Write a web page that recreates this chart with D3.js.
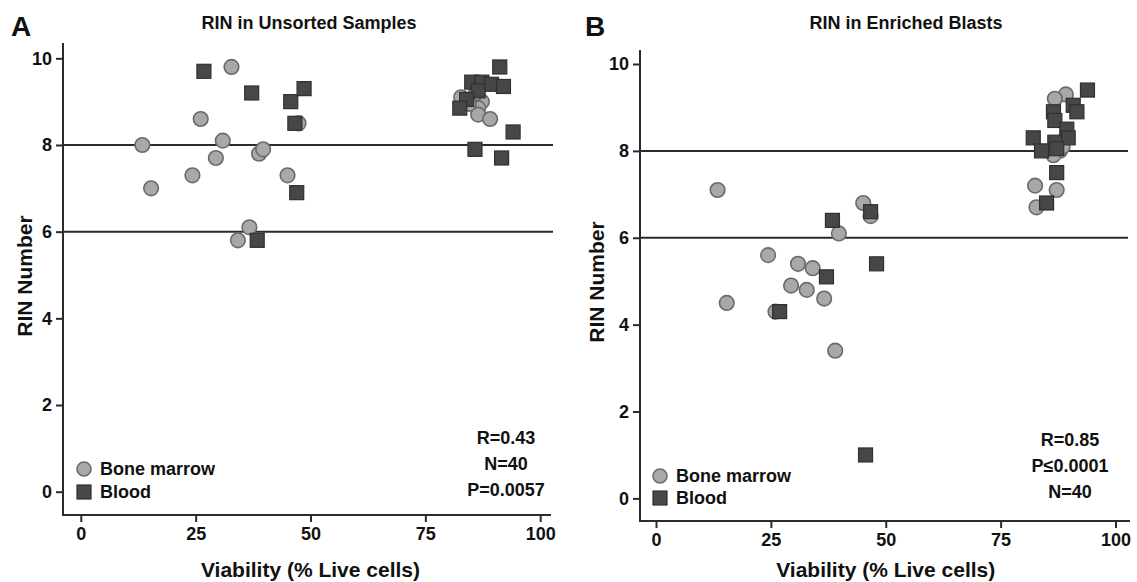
<!DOCTYPE html>
<html>
<head>
<meta charset="utf-8">
<script src="https://cdn.jsdelivr.net/npm/d3@7"></script>
<style>
  html, body { margin: 0; padding: 0; background: #fff; }
  svg { display: block; font-family: "Liberation Sans", Arial, Helvetica, sans-serif; }
</style>
</head>
<body>
<svg id="chart" width="1137" height="582"></svg>
<script>
// ---- Data (viability %, RIN) ----
const xTicks = [0, 25, 50, 75, 100];
const yTicks = [0, 2, 4, 6, 8, 10];
const refLines = [6, 8];
const legendLabels = ["Bone marrow", "Blood"];

const unsortedMarrow = [
  [13.4, 8.0], [15.3, 7.0], [24.3, 7.3], [26.1, 8.6], [29.4, 7.7], [30.9, 8.1],
  [32.8, 9.8], [34.2, 5.8], [36.7, 6.1], [38.8, 7.8], [39.7, 7.9], [45.0, 7.3],
  [47.4, 8.5],
  [82.8, 9.1], [87.3, 9.0], [86.5, 8.85], [86.5, 8.7], [89.1, 8.6], [86.0, 9.2], [84.5, 8.95]
];
const unsortedBlood = [
  [26.8, 9.7], [37.2, 9.2], [45.7, 9.0], [48.6, 9.3], [46.6, 8.5], [47.0, 6.9], [38.4, 5.8],
  [85.1, 9.45], [87.3, 9.45], [89.4, 9.4], [92.0, 9.35], [86.5, 9.25], [84.0, 9.05],
  [82.5, 8.85], [91.2, 9.8], [94.1, 8.3], [85.8, 7.9], [91.6, 7.7]
];
const enrichedMarrow = [
  [13.4, 7.1], [24.4, 5.6], [30.9, 5.4], [34.1, 5.3], [29.4, 4.9], [32.8, 4.8],
  [36.6, 4.6], [15.4, 4.5], [26.0, 4.3], [39.0, 3.4], [39.8, 6.1], [45.1, 6.8], [46.7, 6.5],
  [89.2, 9.3], [86.8, 9.2], [87.9, 8.0], [86.5, 7.9], [82.5, 7.2], [87.2, 7.1], [82.8, 6.7], [88.5, 8.1]
];
const enrichedBlood = [
  [26.9, 4.3], [38.4, 6.4], [37.1, 5.1], [46.7, 6.6], [48.0, 5.4], [45.6, 1.0],
  [93.9, 9.4], [90.8, 9.05], [91.6, 8.9], [86.5, 8.9], [86.8, 8.7], [89.4, 8.5],
  [89.7, 8.3], [82.1, 8.3], [86.8, 8.2], [83.9, 8.0], [87.2, 8.05], [87.2, 7.5], [85.0, 6.8]
];
const statsA = ["R=0.43", "N=40", "P=0.0057"];
const statsB = ["R=0.85", "P\u22640.0001", "N=40"];

// ---- Drawing ----
const svg = d3.select("#chart");
const ink = "#111";
const axisColor = "#2b2b2b";

function panel(cfg) {
  const x = d3.scaleLinear().domain([0, 100]).range([cfg.x0, cfg.x100]);
  const y = d3.scaleLinear().domain([0, 10]).range([cfg.y0, cfg.y10]);
  const g = svg.append("g");

  // reference lines
  g.selectAll("line.ref").data(refLines).enter().append("line")
    .attr("x1", cfg.axisX).attr("x2", cfg.refEnd)
    .attr("y1", d => y(d)).attr("y2", d => y(d))
    .attr("stroke", axisColor).attr("stroke-width", 2);

  // x axis
  const xa = g.append("g").attr("transform", `translate(0,${cfg.axisY})`)
    .call(d3.axisBottom(x).tickValues(xTicks).tickSize(7).tickSizeOuter(0).tickPadding(5));
  xa.select(".domain").remove();
  xa.selectAll(".tick line").attr("stroke", axisColor).attr("stroke-width", 2);
  xa.selectAll(".tick text").attr("fill", ink).style("font-size", "18px").style("font-weight", "bold");
  g.append("line").attr("x1", cfg.axisX - 1).attr("x2", cfg.axisEnd)
    .attr("y1", cfg.axisY).attr("y2", cfg.axisY)
    .attr("stroke", axisColor).attr("stroke-width", 2);

  // y axis
  const ya = g.append("g").attr("transform", `translate(${cfg.axisX},0)`)
    .call(d3.axisLeft(y).tickValues(yTicks).tickSize(7).tickSizeOuter(0).tickPadding(4));
  ya.select(".domain").remove();
  ya.selectAll(".tick line").attr("stroke", axisColor).attr("stroke-width", 2);
  ya.selectAll(".tick text").attr("fill", ink).style("font-size", "18px").style("font-weight", "bold");
  g.append("line").attr("x1", cfg.axisX).attr("x2", cfg.axisX)
    .attr("y1", cfg.axisTop).attr("y2", cfg.axisY + 1)
    .attr("stroke", axisColor).attr("stroke-width", 2);

  // points: circles (bone marrow), then squares (blood)
  g.selectAll("circle.bm").data(cfg.marrow).enter().append("circle")
    .attr("cx", d => x(d[0])).attr("cy", d => y(d[1])).attr("r", 7.3)
    .attr("fill", "#a8a8a8").attr("stroke", "#6a6a6a").attr("stroke-width", 1.6);
  const s = 14;
  g.selectAll("rect.bl").data(cfg.blood).enter().append("rect")
    .attr("x", d => x(d[0]) - s / 2).attr("y", d => y(d[1]) - s / 2)
    .attr("width", s).attr("height", s)
    .attr("fill", "#474747").attr("stroke", "#303030").attr("stroke-width", 1.2);

  // legend
  g.append("circle").attr("cx", cfg.legX).attr("cy", cfg.legY1).attr("r", 7)
    .attr("fill", "#a8a8a8").attr("stroke", "#6a6a6a").attr("stroke-width", 1.6);
  g.append("rect").attr("x", cfg.legX - 7).attr("y", cfg.legY2 - 7).attr("width", 14).attr("height", 14)
    .attr("fill", "#474747").attr("stroke", "#303030").attr("stroke-width", 1.2);
  g.selectAll("text.leg").data(legendLabels).enter().append("text")
    .attr("x", cfg.legX + 16).attr("y", (d, i) => i === 0 ? cfg.legY1 + 6 : cfg.legY2 + 6)
    .attr("fill", ink).style("font-size", "18px").style("font-weight", "bold").text(d => d);

  // stats
  g.selectAll("text.stat").data(cfg.stats).enter().append("text")
    .attr("x", cfg.statX).attr("y", (d, i) => cfg.statY + i * 26)
    .attr("text-anchor", "middle").attr("fill", ink)
    .style("font-size", "18px").style("font-weight", "bold").text(d => d);

  // titles
  g.append("text").attr("x", cfg.titleX).attr("y", 29).attr("text-anchor", "middle")
    .attr("fill", ink).style("font-size", "18px").style("font-weight", "bold").text(cfg.title);
  g.append("text").attr("x", cfg.letterX).attr("y", 36)
    .attr("fill", ink).style("font-size", "28px").style("font-weight", "bold").text(cfg.letter);
  g.append("text").attr("x", (cfg.x0 + cfg.x100) / 2).attr("y", 577).attr("text-anchor", "middle")
    .attr("fill", ink).style("font-size", "21px").style("font-weight", "bold").text("Viability (% Live cells)");
  g.append("text").attr("transform", `translate(${cfg.yLabX},${cfg.yLabY}) rotate(-90)`)
    .attr("text-anchor", "middle").attr("fill", ink)
    .style("font-size", "21px").style("font-weight", "bold").text("RIN Number");
}

panel({
  x0: 80.8, x100: 540.2, y0: 491.7, y10: 58.3,
  axisX: 63, axisY: 515, axisTop: 43, axisEnd: 551, refEnd: 553,
  marrow: unsortedMarrow, blood: unsortedBlood,
  legX: 84, legY1: 469, legY2: 492,
  stats: statsA, statX: 506, statY: 444,
  title: "RIN in Unsorted Samples", titleX: 309, letter: "A", letterX: 11,
  yLabX: 32, yLabY: 276
});
panel({
  x0: 656, x100: 1115.5, y0: 498.4, y10: 64,
  axisX: 640, axisY: 521, axisTop: 50, axisEnd: 1130, refEnd: 1128,
  marrow: enrichedMarrow, blood: enrichedBlood,
  legX: 660, legY1: 476, legY2: 498,
  stats: statsB, statX: 1070, statY: 446,
  title: "RIN in Enriched Blasts", titleX: 906, letter: "B", letterX: 585,
  yLabX: 604, yLabY: 282
});
</script>
</body>
</html>
